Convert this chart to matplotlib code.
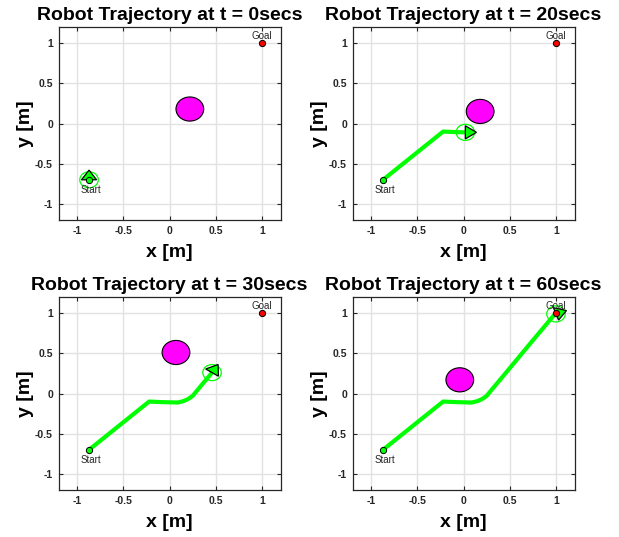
import numpy as np
import matplotlib
matplotlib.use("Agg")
import matplotlib.pyplot as plt
from matplotlib.patches import Circle, Polygon

plt.rcParams['font.family'] = ['Liberation Sans', 'DejaVu Sans']

# ---- data ----
times = [0, 20, 30, 60]
path_x = [-0.87, -0.22, -0.15, -0.06, 0.02, 0.09, 0.15, 0.20, 0.25, 0.30, 0.46, 0.72, 0.99]
path_y = [-0.70, -0.10, -0.104, -0.108, -0.11, -0.112, -0.095, -0.07, -0.03, 0.04, 0.26, 0.62, 0.99]
snap_npts = [1, 5, 11, 13]
robot_x = [-0.87, 0.02, 0.46, 1.00]
robot_y = [-0.70, -0.11, 0.26, 0.99]
robot_heading_deg = [90, 0, 57, 20]
obs_x = [0.22, 0.18, 0.07, -0.04]
obs_y = [0.18, 0.15, 0.51, 0.17]
obs_r = 0.15
start_xy = (-0.87, -0.70)
goal_xy = (1.0, 1.0)
ticks = [-1, -0.5, 0, 0.5, 1]
tick_labels = ['-1', '-0.5', '0', '0.5', '1']

robot_r = 0.1
tri_len = 0.12
tri_half = 0.082

W, H = 619, 537
fig = plt.figure(figsize=(W / 100, H / 100), dpi=100)

lefts = [58.5, 352.5, 58.5, 352.5]
tops = [27, 27, 297, 297]
aw, ah = 222, 193

lime = '#00ff00'
dark = '#262626'

for i in range(4):
    ax = fig.add_axes([lefts[i] / W, 1 - (tops[i] + ah) / H, aw / W, ah / H])
    ax.set_xlim(-1.2, 1.2)
    ax.set_ylim(-1.2, 1.2)
    ax.set_xticks(ticks)
    ax.set_yticks(ticks)
    ax.set_xticklabels(tick_labels, fontsize=7.5, fontweight='bold', color=dark)
    ax.set_yticklabels(tick_labels, fontsize=7.5, fontweight='bold', color=dark)
    ax.tick_params(direction='in', length=3, width=0.8, top=True, right=True,
                   colors=dark, pad=4)
    ax.grid(True, color='#e2e2e2', linewidth=1.0)
    ax.set_axisbelow(True)
    for s in ax.spines.values():
        s.set_color(dark)
        s.set_linewidth(0.9)

    # obstacle
    ax.add_patch(Circle((obs_x[i], obs_y[i]), obs_r, facecolor='#ff00ff',
                        edgecolor='black', linewidth=0.8, zorder=3))
    # trajectory
    n = snap_npts[i]
    if n > 1:
        ax.plot(path_x[:n], path_y[:n], color=lime, linewidth=3,
                solid_joinstyle='round', solid_capstyle='round', zorder=4)
    # robot
    cx, cy = robot_x[i], robot_y[i]
    ax.add_patch(Circle((cx, cy), robot_r, facecolor='none', edgecolor=lime,
                        linewidth=0.9, zorder=5))
    h = np.deg2rad(robot_heading_deg[i])
    d = np.array([np.cos(h), np.sin(h)])
    p = np.array([-np.sin(h), np.cos(h)])
    c = np.array([cx, cy])
    tri = np.array([c + tri_len * d, c + tri_half * p, c - tri_half * p])
    ax.add_patch(Polygon(tri, closed=True, facecolor=lime, edgecolor='black',
                         linewidth=0.9, zorder=6))
    # start / goal
    ax.plot([start_xy[0]], [start_xy[1]], 'o', markersize=4.5, markerfacecolor=lime,
            markeredgecolor='black', markeredgewidth=0.7, zorder=7)
    ax.plot([goal_xy[0]], [goal_xy[1]], 'o', markersize=4.5, markerfacecolor='red',
            markeredgecolor='black', markeredgewidth=0.7, zorder=7)
    ax.text(start_xy[0] + 0.02, start_xy[1] - 0.125, 'Start', fontsize=7,
            ha='center', va='center', color=dark, zorder=8)
    ax.text(goal_xy[0], goal_xy[1] + 0.09, 'Goal', fontsize=7,
            ha='center', va='center', color=dark, zorder=8)

    ax.set_title(f'Robot Trajectory at t = {times[i]}secs', fontsize=14,
                 fontweight='bold', pad=5)
    ax.set_xlabel('x [m]', fontsize=14, fontweight='bold', labelpad=6)
    ax.set_ylabel('y [m]', fontsize=14, fontweight='bold', labelpad=0.5)

fig.savefig('out.png', dpi=100)
